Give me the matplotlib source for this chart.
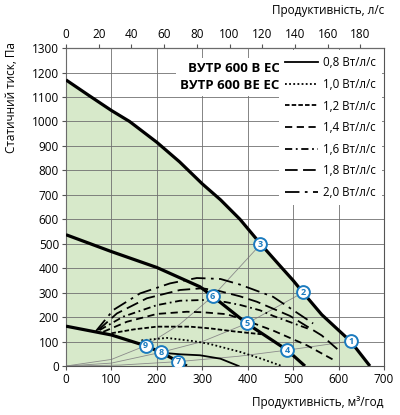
import numpy as np
import matplotlib.pyplot as plt

plt.rcParams['font.family'] = ['Open Sans', 'DejaVu Sans']

# Fan curves (m3/h, Pa)
max_x = [0, 50, 100, 140, 200, 250, 300, 340, 383, 428, 471, 500, 522, 563, 627, 669]
max_y = [1170, 1107, 1045, 1000, 915, 835, 745, 680, 600, 500, 410, 350, 300, 210, 100, 0]
mid_x = [0, 100, 200, 295, 323, 398, 487, 526]
mid_y = [537, 468, 403, 324, 285, 174, 65, 0]
low_x = [0, 100, 175, 209, 247, 266]
low_y = [163, 127, 83, 56, 18, 0]

# System curves through the numbered points
sys_lines = [
    ([0, 120, 247, 380, 487, 627], [0, 4, 18, 40, 65, 102]),
    ([0, 100, 209, 300, 398, 522], [0, 12, 56, 100, 174, 301]),
    ([0, 100, 175, 250, 323, 428], [0, 27, 83, 170, 285, 497]),
]

# Specific fan power curves
sfp_labels = ['0,8 Вт/л/с', '1,0 Вт/л/с', '1,2 Вт/л/с', '1,4 Вт/л/с',
              '1,6 Вт/л/с', '1,8 Вт/л/с', '2,0 Вт/л/с']
sfp_x = [
    [207, 251, 295, 340, 380],
    [166, 222, 280, 317, 383, 430, 475],
    [100, 150, 200, 273, 317, 368, 430],
    [82, 134, 200, 266, 300, 354, 398, 456, 530, 592],
    [74, 126, 200, 251, 300, 350, 383, 427, 456, 537],
    [71, 112, 178, 251, 300, 339, 383, 420, 493, 563, 603],
    [66, 104, 163, 229, 288, 340, 383, 456, 544],
]
sfp_y = [
    [55, 48, 44, 30, 0],
    [105, 115, 102, 90, 58, 30, 0],
    [134, 150, 161, 161, 154, 142, 130],
    [140, 181, 213, 222, 220, 212, 185, 145, 85, 22],
    [147, 202, 249, 267, 270, 262, 250, 228, 205, 150],
    [147, 215, 277, 311, 318, 306, 285, 263, 205, 125, 60],
    [143, 229, 297, 338, 360, 356, 333, 283, 174],
]
sfp_dashes = [None, (1, 1.3), (2.5, 1.2), (4, 2.5), (4, 2, 1, 2), (7, 3), (8, 3, 1.5, 3)]

# Numbered operating points
pt_x = [627, 522, 428, 487, 398, 323, 247, 209, 175]
pt_y = [102, 301, 497, 65, 174, 285, 18, 56, 83]
pt_labels = ['1', '2', '3', '4', '5', '6', '7', '8', '9']

fig = plt.figure(figsize=(4.0, 4.15), dpi=100)
ax = fig.add_axes([0.165, 0.118, 0.795, 0.766])

ax.fill_between(max_x, max_y, 0, color='#d7e9ca', zorder=0)
ax.set_xlim(0, 700)
ax.set_ylim(0, 1300)
ax.set_xticks(range(0, 701, 100))
ax.set_yticks(range(0, 1301, 100))
ax.grid(True, color='#707070', lw=0.6, zorder=1)
ax.set_axisbelow(False)

for sx, sy in sys_lines:
    ax.plot(sx, sy, color='#8a8a8a', lw=0.6, zorder=2)

for xs, ys, lab, d in zip(sfp_x, sfp_y, sfp_labels, sfp_dashes):
    line, = ax.plot(xs, ys, color='black', lw=1.3, label=lab, zorder=3)
    if d is not None:
        line.set_dashes(d)

for xs, ys in [(max_x, max_y), (mid_x, mid_y), (low_x, low_y)]:
    ax.plot(xs, ys, color='black', lw=2.3, zorder=4, solid_capstyle='butt')

ax.scatter(pt_x, pt_y, s=85, facecolor='white', edgecolor='#1b7bbf', lw=1.4, zorder=5)
for x, y, t in zip(pt_x, pt_y, pt_labels):
    ax.text(x, y, t, color='#1b7bbf', fontsize=6.5, fontweight='bold',
            ha='center', va='center', zorder=6)

for s in ax.spines.values():
    s.set_color('#555555')
    s.set_linewidth(0.8)
ax.tick_params(labelsize=8.5, length=3, color='#555555', pad=2)

top = ax.secondary_xaxis('top', functions=(lambda v: v / 3.6, lambda v: v * 3.6))
top.set_xticks(range(0, 181, 20))
top.tick_params(labelsize=8.5, length=3, color='#555555', pad=2)
top.spines['top'].set_color('#555555')

ax.set_ylabel('Статичний тиск, Па', fontsize=8.5)
ax.yaxis.set_label_coords(-0.15, 0.845)
fig.text(0.96, 0.03, 'Продуктивність, м³/год', fontsize=8.5, ha='right', va='center')
fig.text(0.96, 0.975, 'Продуктивність, л/с', fontsize=8.5, ha='right', va='center')

ax.text(0.672, 0.955, 'ВУТР 600 В ЕС\nВУТР 600 ВЕ ЕС', transform=ax.transAxes,
        fontsize=9.5, fontweight='bold', ha='right', va='top', linespacing=1.35,
        bbox=dict(facecolor='white', edgecolor='none', pad=3), zorder=7)

leg = ax.legend(loc='upper right', bbox_to_anchor=(1.0, 1.0), fontsize=8.3, frameon=True,
                handlelength=2.9, handletextpad=0.4, labelspacing=0.75,
                borderaxespad=0.2, borderpad=0.5)
leg.get_frame().set_facecolor('white')
leg.get_frame().set_edgecolor('none')
leg.get_frame().set_alpha(1)
leg.set_zorder(7)

fig.savefig('out.png', dpi=100)
